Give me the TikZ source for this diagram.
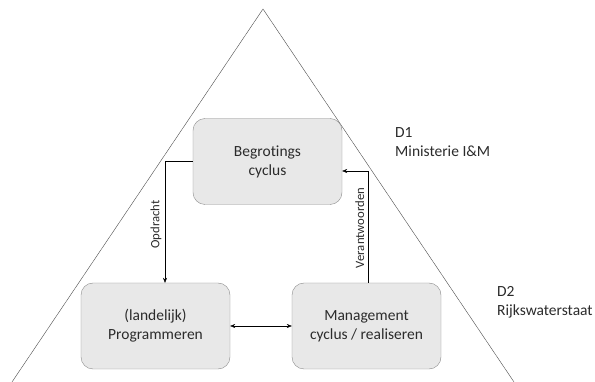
\documentclass[tikz,border=0pt]{standalone}
\usepackage{fontspec}
\setmainfont{Carlito}[Ligatures=NoCommon]
\usetikzlibrary{arrows.meta}
\definecolor{boxfill}{HTML}{E8E8E8}
\definecolor{boxline}{HTML}{8A8A8A}
\definecolor{txt}{HTML}{2B2B2B}
\begin{document}
\begin{tikzpicture}[x=1pt, y=-1pt,
  every node/.style={font=\fontsize{15.5}{19}\selectfont, text=txt},
  cyclebox/.style={draw=boxline, fill=boxfill, rounded corners=12pt, minimum width=149pt, minimum height=86pt, align=center},
  flow/.style={draw=black, -{Stealth[length=5pt,width=4pt]}},
  sidelabel/.style={font=\fontsize{12.7}{14}\selectfont, rotate=90, anchor=south, inner sep=3.5pt}]
\useasboundingbox (0,0) rectangle (595,382);
\coordinate (apex) at (263,9); \coordinate (left) at (12,382); \coordinate (right) at (514,382);
\draw[draw=black!70] (left)--(apex)--(right);
\node[cyclebox] (begroting) at (267.5,161.5) {Begrotings\\cyclus};
\node[cyclebox] (programmeren) at (155.5,326) {(landelijk)\\Programmeren};
\node[cyclebox] (management) at (366.5,326) {Management\\cyclus / realiseren};
\draw[flow] (begroting.west) -| node[sidelabel, pos=0.76] {Opdracht} ([xshift=9.5pt]programmeren.north);
\draw[flow] ([xshift=1.5pt]management.north) |- node[sidelabel, pos=0.245] {Verantwoorden} ([yshift=-9.5pt]begroting.east);
\draw[draw=black, {Stealth[length=5pt,width=4pt]}-{Stealth[length=5pt,width=4pt]}] (programmeren) -- (management);
\node[align=left, anchor=north west, inner sep=0pt] (d1) at (395,127) {D1\\Ministerie I\&M};
\node[align=left, anchor=north west, inner sep=0pt] (d2) at (497,286) {D2\\Rijkswaterstaat};
\end{tikzpicture}
\end{document}
